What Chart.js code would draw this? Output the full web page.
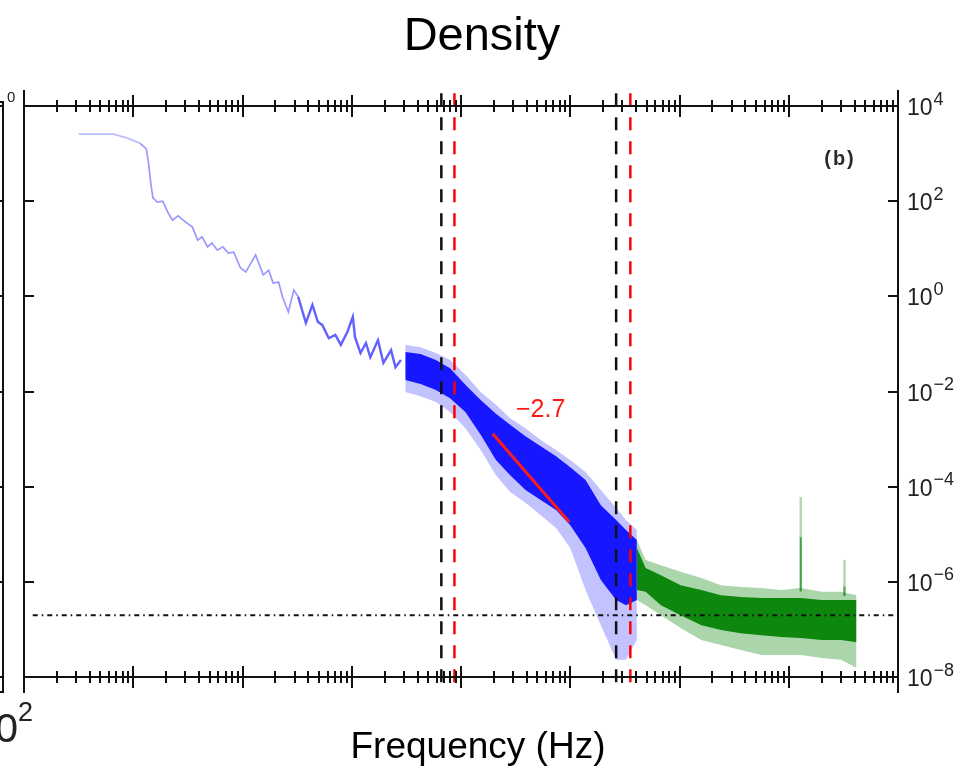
<!DOCTYPE html>
<html><head><meta charset="utf-8">
<script src="https://cdn.jsdelivr.net/npm/chart.js@4.4.1/dist/chart.umd.min.js"></script>
<style>html,body{margin:0;padding:0;background:#fff;overflow:hidden}canvas{display:block}</style>
</head><body>
<canvas id="c" width="955" height="768"></canvas>
<script>
// ---- values (log10 of frequency in Hz, log10 of PSD) ----
const blueLineLogF = [2.50,2.82,2.94,3.06,3.12,3.14,3.16,3.18,3.22,3.27,3.32,3.36,3.41,3.48,3.54,3.59,3.63,3.68,3.72,3.77,3.82,3.87,3.92,3.98,4.03,4.12,4.19,4.24,4.28,4.33,4.37,4.42,4.47,4.51,4.58,4.64,4.69,4.73,4.79,4.85,4.90,4.96,5.01,5.03,5.08,5.13,5.17,5.24,5.29,5.36,5.40,5.45];
const blueLineLogP = [3.41,3.41,3.33,3.22,3.10,2.80,2.38,2.07,1.98,2.00,1.75,1.60,1.69,1.56,1.46,1.18,1.25,1.04,1.12,0.97,1.04,0.91,0.93,0.60,0.51,0.87,0.45,0.55,0.28,0.30,-0.04,-0.33,0.13,-0.01,-0.56,-0.18,-0.54,-0.60,-0.88,-0.81,-1.02,-0.75,-0.43,-0.86,-1.19,-0.98,-1.28,-0.92,-1.40,-1.13,-1.49,-1.34];

const blueBandLogF   = [5.49,5.63,5.77,5.90,6.04,6.18,6.32,6.45,6.59,6.73,6.87,7.00,7.14,7.28,7.42,7.51,7.61];
const blueOuterTop   = [-1.02,-1.07,-1.19,-1.34,-1.65,-2.01,-2.28,-2.56,-2.77,-3.02,-3.23,-3.44,-3.69,-4.07,-4.45,-4.70,-4.91];
const blueInnerTop   = [-1.17,-1.21,-1.34,-1.51,-1.86,-2.18,-2.47,-2.70,-2.94,-3.15,-3.36,-3.59,-3.86,-4.39,-4.70,-4.91,-5.12];
const blueInnerBot   = [-1.76,-1.84,-1.97,-2.14,-2.43,-2.91,-3.44,-3.76,-4.07,-4.28,-4.49,-4.81,-5.29,-5.96,-6.38,-6.49,-6.38];
const blueOuterBot   = [-2.01,-2.10,-2.22,-2.43,-2.77,-3.23,-3.76,-4.11,-4.34,-4.60,-4.87,-5.29,-6.17,-6.91,-7.64,-7.64,-7.22];

const greenBandLogF  = [7.61,7.69,7.83,8.01,8.20,8.38,8.56,8.75,8.93,9.11,9.30,9.48,9.62];
const greenOuterTop  = [-5.12,-5.54,-5.65,-5.79,-5.92,-6.07,-6.11,-6.13,-6.17,-6.13,-6.21,-6.21,-6.28];
const greenInnerTop  = [-5.29,-5.71,-5.86,-6.07,-6.17,-6.28,-6.32,-6.34,-6.34,-6.34,-6.38,-6.38,-6.38];
const greenInnerBot  = [-6.17,-6.21,-6.49,-6.70,-6.91,-7.01,-7.08,-7.12,-7.16,-7.18,-7.22,-7.22,-7.27];
const greenOuterBot  = [-6.38,-6.49,-6.70,-6.97,-7.22,-7.33,-7.43,-7.54,-7.54,-7.54,-7.60,-7.64,-7.81];

const greenSpikeLogF = [9.11, 9.51];
const greenSpikeLight = [-4.22, -5.54];
const greenSpikeDark  = [-5.06, -6.10];
const greenSpikeBase  = [-6.20, -6.30];

const fitLogF = [6.29, 6.99];
const fitLogP = [-2.89, -4.74];
const fitLabel = "\u22122.7";

const blackMarkerLogF = [5.82, 7.42];
const redMarkerLogF   = [5.94, 7.55];
const markerSpanLogP  = [4.27, -8.32];

const noiseFloorLogP = -6.70;
const noiseFloorLogF = [2.08, 10.0];

const xDecades = [2,3,4,5,6,7,8,9,10];
const yTickExp = [4,2,0,-2,-4,-6,-8];
const yTickLabels = ["4","2","0","\u22122","\u22124","\u22126","\u22128"];
const titleText = "Density";
const xLabelText = "Frequency (Hz)";
const panelTag = "(b)";

// ---- build ----
const P = (lf, lp) => lf.map((f, i) => ({x: Math.pow(10, f), y: Math.pow(10, lp[i])}));
const V = (f) => markerSpanLogP.map(p => ({x: Math.pow(10, f), y: Math.pow(10, p)}));

const base = {pointRadius: 0, tension: 0, fill: false, borderWidth: 0};
const band = (lf, top, bot, color, order) => ([
  Object.assign({}, base, {data: P(lf, top), borderColor: 'rgba(0,0,0,0)', order}),
  Object.assign({}, base, {data: P(lf, bot), borderColor: 'rgba(0,0,0,0)', backgroundColor: color, fill: '-1', order})
]);

const datasets = [
  ...band(blueBandLogF, blueOuterTop, blueOuterBot, 'rgba(70,70,255,0.33)', 10),
  ...band(blueBandLogF, blueInnerTop, blueInnerBot, 'rgba(0,0,255,0.88)', 9),
  ...band(greenBandLogF, greenOuterTop, greenOuterBot, 'rgba(0,128,0,0.33)', 10),
  ...band(greenBandLogF, greenInnerTop, greenInnerBot, 'rgba(0,128,0,0.92)', 9),
  Object.assign({}, base, {
    data: P(blueLineLogF, blueLineLogP), borderWidth: 1.7, order: 8,
    borderColor: 'rgba(70,70,255,0.55)',
    segment: {
      borderColor: c => c.p0.parsed.x < 1e3 ? 'rgba(90,90,255,0.4)' : (c.p0.parsed.x > 3e4 ? 'rgba(30,30,255,0.7)' : 'rgba(70,70,255,0.55)'),
      borderWidth: c => c.p0.parsed.x > 3e4 ? 2.4 : 1.7
    }
  }),
];
greenSpikeLogF.forEach((f, i) => {
  datasets.push(Object.assign({}, base, {data: P([f, f], [greenSpikeBase[i], greenSpikeLight[i]]), borderColor: 'rgba(0,128,0,0.3)', borderWidth: 2.5, order: 8}));
  datasets.push(Object.assign({}, base, {data: P([f, f], [greenSpikeBase[i], greenSpikeDark[i]]), borderColor: 'rgba(0,128,0,0.6)', borderWidth: 2, order: 8}));
});
datasets.push(Object.assign({}, base, {data: P(fitLogF, fitLogP), borderColor: '#ff1a1a', borderWidth: 3, order: 3}));
datasets.push(Object.assign({}, base, {data: P(noiseFloorLogF, [noiseFloorLogP, noiseFloorLogP]), borderColor: '#111', borderWidth: 2, borderDash: [5,4,1.5,4], order: 2, clip: false}));
blackMarkerLogF.forEach(f => datasets.push(Object.assign({}, base, {data: V(f), borderColor: '#111', borderWidth: 2.5, borderDash: [13,11], order: 1, clip: false})));
redMarkerLogF.forEach(f => datasets.push(Object.assign({}, base, {data: V(f), borderColor: '#ff0000', borderWidth: 2.5, borderDash: [13,11], order: 1, clip: false})));

function drawPow(ctx, x, yBase, baseTxt, expTxt, size, color) {
  ctx.fillStyle = color;
  ctx.textAlign = 'left';
  ctx.textBaseline = 'alphabetic';
  ctx.font = size + 'px "Liberation Sans", Arial, sans-serif';
  ctx.fillText(baseTxt, x, yBase);
  const w = ctx.measureText(baseTxt).width;
  ctx.font = Math.round(size * 0.78) + 'px "Liberation Sans", Arial, sans-serif';
  ctx.fillText(expTxt, x + w + 1, yBase - size * 0.45);
}

const frame = {
  id: 'frame',
  afterDraw(chart) {
    const {ctx, chartArea: a, scales: {x, y}} = chart;
    ctx.save();
    ctx.strokeStyle = '#111';
    ctx.lineWidth = 2;
    ctx.lineCap = 'butt';
    ctx.beginPath();
    ctx.moveTo(a.left, a.top); ctx.lineTo(a.right, a.top);
    ctx.moveTo(a.left, a.bottom); ctx.lineTo(a.right, a.bottom);
    ctx.moveTo(a.left, a.top - 16); ctx.lineTo(a.left, a.bottom + 16);
    ctx.moveTo(a.right, a.top - 16); ctx.lineTo(a.right, a.bottom + 16);
    // x ticks (top and bottom, crossing the axis)
    xDecades.forEach((d, i) => {
      const px = Math.round(x.getPixelForValue(Math.pow(10, d)));
      ctx.moveTo(px, a.top - 11); ctx.lineTo(px, a.top + 11);
      ctx.moveTo(px, a.bottom - 11); ctx.lineTo(px, a.bottom + 11);
      if (i < xDecades.length - 1) {
        for (let k = 2; k <= 9; k++) {
          const mx = Math.round(x.getPixelForValue(k * Math.pow(10, d)));
          ctx.moveTo(mx, a.top - 6); ctx.lineTo(mx, a.top + 6);
          ctx.moveTo(mx, a.bottom - 6); ctx.lineTo(mx, a.bottom + 6);
        }
      }
    });
    // y ticks (inward on both sides)
    yTickExp.forEach(e => {
      const py = Math.round(y.getPixelForValue(Math.pow(10, e)));
      ctx.moveTo(a.right - 10, py); ctx.lineTo(a.right, py);
      ctx.moveTo(a.left, py); ctx.lineTo(a.left + 10, py);
    });
    // neighbouring panel edge on the far left
    ctx.moveTo(3, a.top - 4); ctx.lineTo(3, a.bottom + 15);
    ctx.moveTo(0, a.top - 4); ctx.lineTo(4, a.top - 4);
    ctx.moveTo(0, a.bottom + 15); ctx.lineTo(4, a.bottom + 15);
    yTickExp.forEach(e => {
      const py = Math.round(y.getPixelForValue(Math.pow(10, e)));
      ctx.moveTo(0, py); ctx.lineTo(3, py);
    });
    ctx.stroke();

    // y tick labels on the right
    yTickExp.forEach((e, i) => {
      const py = y.getPixelForValue(Math.pow(10, e));
      drawPow(ctx, a.right + 9, py + 9, '10', yTickLabels[i], 23, '#222');
    });

    // cover above the visible crop
    ctx.fillStyle = '#fff';
    ctx.fillRect(0, 0, chart.width, 89);

    // title and axis label
    ctx.fillStyle = '#000';
    ctx.textAlign = 'center';
    ctx.textBaseline = 'alphabetic';
    ctx.font = '47px "Liberation Sans", Arial, sans-serif';
    ctx.fillText(titleText, 482, 50);
    ctx.font = '37px "Liberation Sans", Arial, sans-serif';
    ctx.fillText(xLabelText, 478, 758);

    // panel tag
    ctx.fillStyle = '#2a2a2a';
    ctx.font = 'bold 20px "Liberation Sans", Arial, sans-serif';
    if ('letterSpacing' in ctx) ctx.letterSpacing = '2px';
    ctx.fillText(panelTag, 840, 165);
    if ('letterSpacing' in ctx) ctx.letterSpacing = '0px';

    // slope label near the fit line
    const lx = x.getPixelForValue(Math.pow(10, fitLogF[0])) + 48;
    const ly = y.getPixelForValue(Math.pow(10, fitLogP[0])) - 17;
    ctx.fillStyle = '#ff1a1a';
    ctx.font = '25px "Liberation Sans", Arial, sans-serif';
    ctx.fillText(fitLabel, lx, ly);

    // tick label of the neighbouring panel (bottom-left, cropped)
    ctx.textAlign = 'right';
    ctx.fillStyle = '#222';
    ctx.font = '41px "Liberation Sans", Arial, sans-serif';
    ctx.fillText('10', 18, 742);
    ctx.textAlign = 'left';
    ctx.font = '27px "Liberation Sans", Arial, sans-serif';
    ctx.fillText('2', 18, 721);
    ctx.font = '15px "Liberation Sans", Arial, sans-serif';
    ctx.fillText('0', 7, 102);
    ctx.restore();
  }
};

new Chart(document.getElementById('c'), {
  type: 'line',
  data: {datasets},
  options: {
    responsive: false,
    animation: false,
    devicePixelRatio: 1,
    layout: {padding: {left: 24, right: 57, top: 106, bottom: 91}},
    plugins: {legend: {display: false}, tooltip: {enabled: false}, title: {display: false}},
    scales: {
      x: {type: 'logarithmic', min: 1e2, max: 1e10, display: false},
      y: {type: 'logarithmic', min: 1e-8, max: 1e4, display: false}
    }
  },
  plugins: [frame]
});
</script>
</body></html>
